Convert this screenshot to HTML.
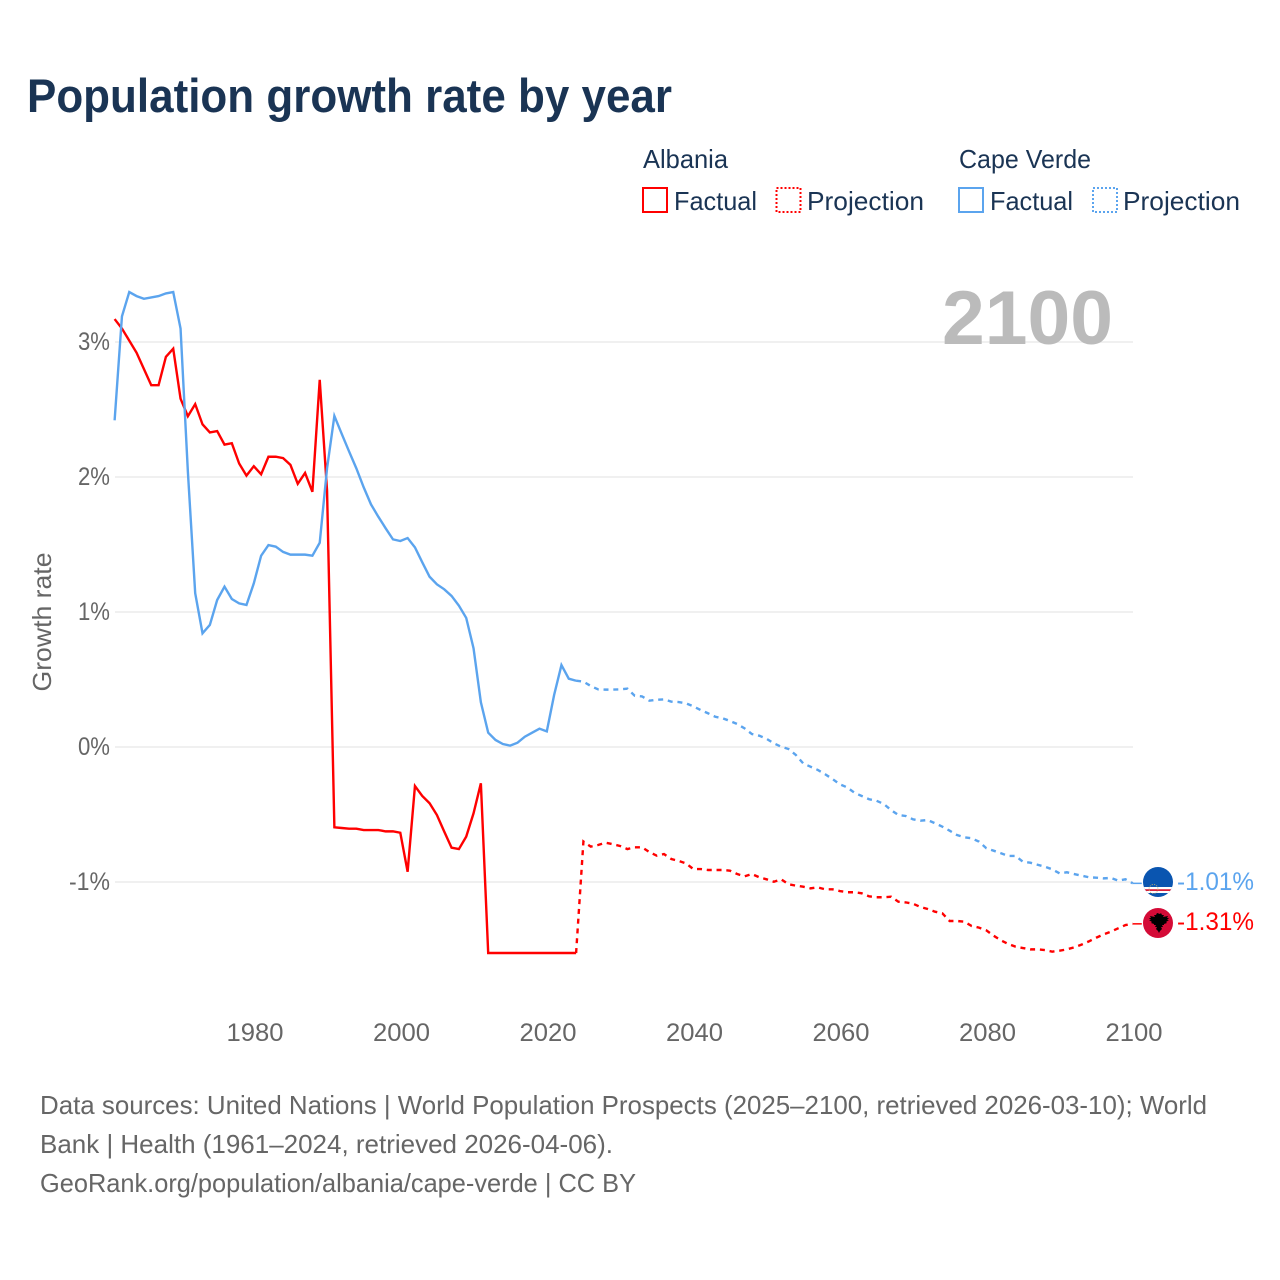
<!DOCTYPE html>
<html lang="en">
<head>
<meta charset="utf-8">
<title>Population growth rate by year</title>
<style>
html,body{margin:0;padding:0;background:#fff;}
svg{display:block;font-family:"Liberation Sans",sans-serif;}
</style>
</head>
<body>
<svg id="chart" xmlns="http://www.w3.org/2000/svg" width="1280" height="1280" viewBox="0 0 1280 1280">
  <rect x="0" y="0" width="1280" height="1280" fill="#ffffff"/>
  <text x="27" y="112" font-size="47" font-weight="700" fill="#1a3454" textLength="645" lengthAdjust="spacingAndGlyphs">Population growth rate by year</text>

  <g font-size="26" fill="#1a3454">
    <text x="643" y="168" textLength="85" lengthAdjust="spacingAndGlyphs">Albania</text>
    <rect x="643" y="188" width="24" height="24" fill="none" stroke="#ff0000" stroke-width="2"/>
    <text x="674" y="210" textLength="83" lengthAdjust="spacingAndGlyphs">Factual</text>
    <rect x="776.5" y="188" width="24" height="24" fill="none" stroke="#ff0000" stroke-width="2" stroke-dasharray="2 2"/>
    <text x="807" y="210" textLength="117" lengthAdjust="spacingAndGlyphs">Projection</text>
    <text x="959" y="168" textLength="132" lengthAdjust="spacingAndGlyphs">Cape Verde</text>
    <rect x="959" y="188" width="24" height="24" fill="none" stroke="#5ba4ee" stroke-width="2"/>
    <text x="990" y="210" textLength="83" lengthAdjust="spacingAndGlyphs">Factual</text>
    <rect x="1093" y="188" width="24" height="24" fill="none" stroke="#5ba4ee" stroke-width="2" stroke-dasharray="2 2"/>
    <text x="1123" y="210" textLength="117" lengthAdjust="spacingAndGlyphs">Projection</text>
  </g>

  <g id="grid"></g>
  <text x="942" y="344" font-size="76" font-weight="700" fill="#bbbbbb" textLength="171" lengthAdjust="spacingAndGlyphs">2100</text>
  <g id="yTicks" font-size="25" fill="#666666"></g>
  <g id="xTicks" font-size="25" fill="#666666"></g>
  <text transform="translate(51,622) rotate(-90)" text-anchor="middle" font-size="26" fill="#666666" textLength="139" lengthAdjust="spacingAndGlyphs">Growth rate</text>

  <g id="series" fill="none" stroke-width="2.4"></g>

  <defs>
    <clipPath id="clipCv"><circle cx="1158" cy="882" r="15"/></clipPath>
    <clipPath id="clipAl"><circle cx="1158" cy="923" r="15"/></clipPath>
  </defs>
  <g clip-path="url(#clipCv)">
    <rect x="1143" y="867" width="30" height="30" fill="#0a55b0"/>
    <rect x="1143" y="887" width="30" height="6" fill="#ffffff"/>
    <rect x="1143" y="889.2" width="30" height="1.8" fill="#d8203c"/>
    <circle cx="1153.5" cy="889" r="4.5" fill="none" stroke="#c9b26a" stroke-width="0.8" stroke-dasharray="1.2 1.2"/>
  </g>
  <g clip-path="url(#clipAl)">
    <rect x="1143" y="908" width="30" height="30" fill="#d40b37"/>
    <path fill="#000" d="M1157 913l-1 2-2 0 1 2-5 -1 1 2-2 0 2 2-2 0 3 2 -1 1 3 1 0 1 2 0-1 2 2 0-1 2 2 2 1 2 1-2 2-2-1-2 2 0-1-2 2 0 0-1 3-1-1-1 3-2-2 0 2-2-2 0 1-2-5 1 1-2-2 0-1-2-1 1z"/>
  </g>
  <text id="endCv" x="1177" y="890" font-size="25" fill="#5ba4ee" textLength="77" lengthAdjust="spacingAndGlyphs"></text>
  <text id="endAl" x="1177" y="930" font-size="25" fill="#ff0000" textLength="77" lengthAdjust="spacingAndGlyphs"></text>

  <g font-size="26" fill="#666666">
    <text x="40" y="1114" textLength="1167" lengthAdjust="spacingAndGlyphs">Data sources: United Nations | World Population Prospects (2025–2100, retrieved 2026-03-10); World</text>
    <text x="40" y="1153" textLength="573" lengthAdjust="spacingAndGlyphs">Bank | Health (1961–2024, retrieved 2026-04-06).</text>
    <text x="40" y="1192" textLength="596" lengthAdjust="spacingAndGlyphs">GeoRank.org/population/albania/cape-verde | CC BY</text>
  </g>
</svg>
<script>
const xTickYears = [1980, 2000, 2020, 2040, 2060, 2080, 2100];
const yTickValues = [3, 2, 1, 0, -1];
const yTickLabels = ["3%", "2%", "1%", "0%", "-1%"];
const factualYears = [1961,1962,1963,1964,1965,1966,1967,1968,1969,1970,1971,1972,1973,1974,1975,1976,1977,1978,1979,1980,1981,1982,1983,1984,1985,1986,1987,1988,1989,1990,1991,1992,1993,1994,1995,1996,1997,1998,1999,2000,2001,2002,2003,2004,2005,2006,2007,2008,2009,2010,2011,2012,2013,2014,2015,2016,2017,2018,2019,2020,2021,2022,2023,2024];
const projectionYears = [2024,2025,2026,2027,2028,2029,2030,2031,2032,2033,2034,2035,2036,2037,2038,2039,2040,2041,2042,2043,2044,2045,2046,2047,2048,2049,2050,2051,2052,2053,2054,2055,2056,2057,2058,2059,2060,2061,2062,2063,2064,2065,2066,2067,2068,2069,2070,2071,2072,2073,2074,2075,2076,2077,2078,2079,2080,2081,2082,2083,2084,2085,2086,2087,2088,2089,2090,2091,2092,2093,2094,2095,2096,2097,2098,2099,2100];
const albaniaFactual = [3.17,3.10,3.01,2.92,2.80,2.68,2.68,2.89,2.95,2.58,2.45,2.54,2.39,2.33,2.34,2.24,2.25,2.10,2.01,2.08,2.02,2.15,2.15,2.14,2.09,1.95,2.03,1.89,2.72,1.90,-0.595,-0.60,-0.605,-0.605,-0.615,-0.615,-0.615,-0.625,-0.625,-0.635,-0.924,-0.289,-0.363,-0.417,-0.504,-0.627,-0.746,-0.756,-0.664,-0.491,-0.269,-1.526,-1.526,-1.526,-1.526,-1.526,-1.526,-1.526,-1.526,-1.526,-1.526,-1.526,-1.526,-1.526];
const albaniaProjection = [-1.526,-0.70,-0.738,-0.726,-0.709,-0.72,-0.733,-0.756,-0.743,-0.743,-0.778,-0.805,-0.793,-0.83,-0.844,-0.862,-0.904,-0.904,-0.911,-0.911,-0.911,-0.916,-0.941,-0.958,-0.941,-0.965,-0.98,-0.998,-0.98,-1.017,-1.027,-1.035,-1.047,-1.04,-1.054,-1.054,-1.067,-1.076,-1.076,-1.084,-1.106,-1.113,-1.113,-1.109,-1.146,-1.151,-1.161,-1.185,-1.2,-1.22,-1.232,-1.289,-1.289,-1.294,-1.326,-1.338,-1.358,-1.398,-1.432,-1.459,-1.479,-1.489,-1.499,-1.499,-1.504,-1.516,-1.509,-1.499,-1.484,-1.464,-1.44,-1.413,-1.388,-1.368,-1.343,-1.319,-1.31];
const capeVerdeFactual = [2.42,3.19,3.37,3.34,3.32,3.33,3.34,3.36,3.37,3.10,2.04,1.139,0.842,0.904,1.089,1.188,1.096,1.064,1.052,1.212,1.417,1.496,1.484,1.445,1.425,1.425,1.425,1.417,1.513,2.064,2.452,2.32,2.19,2.064,1.924,1.797,1.706,1.62,1.538,1.526,1.548,1.479,1.368,1.261,1.205,1.168,1.119,1.047,0.956,0.731,0.331,0.106,0.052,0.022,0.01,0.032,0.076,0.106,0.136,0.116,0.385,0.607,0.506,0.491];
const capeVerdeProjection = [0.491,0.484,0.452,0.427,0.425,0.425,0.427,0.432,0.38,0.375,0.343,0.35,0.353,0.336,0.333,0.324,0.301,0.274,0.25,0.224,0.213,0.193,0.17,0.138,0.096,0.084,0.061,0.027,0.002,-0.015,-0.059,-0.121,-0.146,-0.17,-0.202,-0.237,-0.276,-0.299,-0.339,-0.363,-0.387,-0.398,-0.422,-0.467,-0.504,-0.511,-0.536,-0.546,-0.541,-0.565,-0.59,-0.62,-0.652,-0.669,-0.676,-0.701,-0.75,-0.768,-0.787,-0.807,-0.807,-0.85,-0.857,-0.872,-0.887,-0.906,-0.936,-0.928,-0.941,-0.953,-0.965,-0.968,-0.973,-0.97,-0.99,-0.98,-1.01];
const albaniaEndLabel = "-1.31%";
const capeVerdeEndLabel = "-1.01%";

const SVG_NS = "http://www.w3.org/2000/svg";
const RED = "#ff0000";
const BLUE = "#5ba4ee";
const PLOT_RIGHT = 1133;
const PLOT_LEFT = 115;
const TICK_LABEL_OFFSET = 1.2;

function xScale(year) { return 1132.8 - (2100 - year) * 7.325; }
function yScale(value) { return 747 - value * 135; }
function linePath(years, values) {
  return years.map(function (yr, i) {
    return (i ? "L" : "M") + xScale(yr).toFixed(2) + " " + yScale(values[i]).toFixed(2);
  }).join("");
}
function make(tag, parentId) {
  const el = document.createElementNS(SVG_NS, tag);
  document.getElementById(parentId).appendChild(el);
  return el;
}

yTickValues.forEach(function (v, i) {
  const line = make("line", "grid");
  
  
  line.setAttribute("x1", PLOT_LEFT);
  line.setAttribute("x2", PLOT_RIGHT);
  line.setAttribute("y1", yScale(v));
  line.setAttribute("y2", yScale(v));
  line.setAttribute("stroke", "#ececec");
  line.setAttribute("stroke-width", "1.5");

  const label = make("text", "yTicks");
  
  
  label.setAttribute("x", 110);
  label.setAttribute("y", yScale(v) + 8);
  label.setAttribute("text-anchor", "end");
  label.setAttribute("textLength", yTickLabels[i].length > 2 ? 41 : 32);
  label.setAttribute("lengthAdjust", "spacingAndGlyphs");
  label.textContent = yTickLabels[i];
});

xTickYears.forEach(function (yr) {
  const label = make("text", "xTicks");
  
  
  label.setAttribute("x", xScale(yr) + TICK_LABEL_OFFSET);
  label.setAttribute("y", 1041);
  label.setAttribute("text-anchor", "middle");
  label.setAttribute("textLength", 57);
  label.setAttribute("lengthAdjust", "spacingAndGlyphs");
  label.textContent = String(yr);
});

function drawSeries(years, values, color, dashed, name) {
  const path = make("path", "series");
  
  
  path.setAttribute("d", linePath(years, values));
  path.setAttribute("stroke", color);
  if (dashed) path.setAttribute("stroke-dasharray", "5 4.8");
}
function drawLeader(years, values, color, name) {
  const last = values[values.length - 1];
  const lastYear = years[years.length - 1];
  const line = make("line", "series");
  
  
  line.setAttribute("x1", xScale(lastYear));
  line.setAttribute("x2", xScale(lastYear) + 9);
  line.setAttribute("y1", yScale(last));
  line.setAttribute("y2", yScale(last));
  line.setAttribute("stroke", color);
  line.setAttribute("stroke-width", "1.5");
}

drawSeries(factualYears, albaniaFactual, RED, false, "line-albania-factual");
drawSeries(projectionYears, albaniaProjection, RED, true, "line-albania-projection");
drawLeader(projectionYears, albaniaProjection, RED, "leader-albania");
drawSeries(factualYears, capeVerdeFactual, BLUE, false, "line-cape-verde-factual");
drawSeries(projectionYears, capeVerdeProjection, BLUE, true, "line-cape-verde-projection");
drawLeader(projectionYears, capeVerdeProjection, BLUE, "leader-cape-verde");

document.getElementById("endAl").textContent = albaniaEndLabel;
document.getElementById("endCv").textContent = capeVerdeEndLabel;
</script>
</body>
</html>
